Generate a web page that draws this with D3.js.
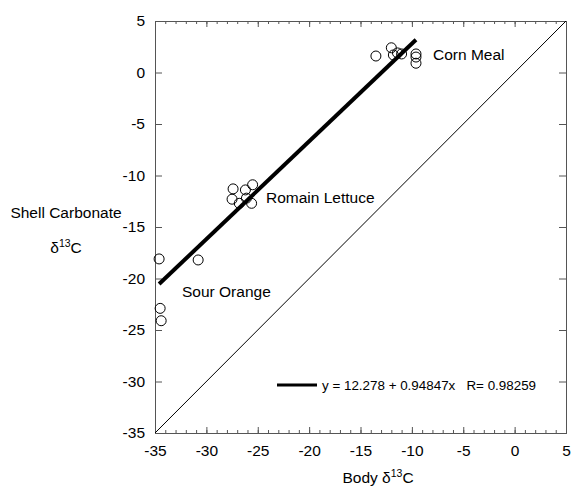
<!DOCTYPE html>
<html>
<head>
<meta charset="utf-8">
<script src="https://cdn.jsdelivr.net/npm/d3@7"></script>
<style>
  body { margin: 0; background: #fff; }
  svg { font-family: "Liberation Sans", Arial, sans-serif; }
</style>
</head>
<body>
<div id="container"></div>
<script>
// readings from the picture
var cornX = [-13.5, -12.0, -11.8, -11.4, -11.0, -9.6, -9.6, -9.6];
var cornY = [1.6, 2.4, 1.7, 1.9, 1.8, 1.8, 1.5, 0.9];
var lettuceX = [-27.4, -25.5, -26.2, -27.5, -26.8, -26.1, -25.6];
var lettuceY = [-11.3, -10.9, -11.4, -12.3, -12.7, -12.2, -12.7];
var orangeX = [-34.6, -30.8, -34.5, -34.4];
var orangeY = [-18.1, -18.2, -22.9, -24.1];
var tickVals = [-35, -30, -25, -20, -15, -10, -5, 0, 5];
var fitA = 12.278;
var fitB = 0.94847;
var fitRange = [-34.6, -9.6];

var width = 575;
var height = 487;
var plotLeft = 155, plotRight = 566, plotTop = 21, plotBottom = 433;

var svg = d3.select("#container").append("svg")
            .attr("width", width)
            .attr("height", height);

var x = d3.scaleLinear().domain([-35, 5]).range([plotLeft, plotRight]);
var y = d3.scaleLinear().domain([-35, 5]).range([plotBottom, plotTop]);
var minor = d3.range(-35, 6, 1);
var fmt = function(d) { return String(d); };

// ticks all point into the plot
var gb = svg.append("g").attr("transform", "translate(0," + plotBottom + ")");
gb.call(d3.axisBottom(x).tickValues(minor).tickSize(-3).tickFormat(""));
gb.append("g").call(d3.axisBottom(x).tickValues(tickVals).tickSize(-6).tickPadding(12).tickFormat(fmt));

var gt = svg.append("g").attr("transform", "translate(0," + plotTop + ")");
gt.call(d3.axisTop(x).tickValues(minor).tickSize(-3).tickFormat(""));
gt.append("g").call(d3.axisTop(x).tickValues(tickVals).tickSize(-6).tickFormat(""));

var gl = svg.append("g").attr("transform", "translate(" + plotLeft + ",0)");
gl.call(d3.axisLeft(y).tickValues(tickVals).tickSize(-7).tickPadding(10).tickFormat(fmt));

var gr = svg.append("g").attr("transform", "translate(" + plotRight + ",0)");
gr.call(d3.axisRight(y).tickValues(tickVals).tickSize(-7).tickFormat(""));

svg.selectAll(".domain").attr("stroke", "#555");
svg.selectAll(".tick line").attr("stroke", "#555");
svg.selectAll(".tick text").style("font-size", "15.5px").attr("fill", "#000");

// 1:1 line
svg.append("line")
   .attr("x1", x(-35)).attr("y1", y(-35))
   .attr("x2", x(5)).attr("y2", y(5))
   .attr("stroke", "#000").attr("stroke-width", 1);

// fitted line
svg.append("line")
   .attr("x1", x(fitRange[0])).attr("y1", y(fitA + fitB * fitRange[0]))
   .attr("x2", x(fitRange[1])).attr("y2", y(fitA + fitB * fitRange[1]))
   .attr("stroke", "#000").attr("stroke-width", 4);

function drawPoints(xs, ys) {
  svg.append("g").selectAll("circle")
     .data(xs)
     .enter()
     .append("circle")
     .attr("cx", function(d) { return x(d); })
     .attr("cy", function(d, i) { return y(ys[i]); })
     .attr("r", 5)
     .attr("fill", "none")
     .attr("stroke", "#000")
     .attr("stroke-width", 1);
}
drawPoints(cornX, cornY);
drawPoints(lettuceX, lettuceY);
drawPoints(orangeX, orangeY);

function label(txt, px, py, size) {
  return svg.append("text")
            .attr("x", px).attr("y", py)
            .style("font-size", size + "px")
            .attr("fill", "#000")
            .text(txt);
}
label("Corn Meal", 433, 60, 15.5);
label("Romain Lettuce", 266, 203, 15.5);
label("Sour Orange", 182, 297, 15.5);

// legend
svg.append("line")
   .attr("x1", 277).attr("x2", 317)
   .attr("y1", 385).attr("y2", 385)
   .attr("stroke", "#000").attr("stroke-width", 3);
label("y = " + fitA + " + " + fitB + "x   R= 0.98259", 322, 390, 13.4)
   .style("white-space", "pre");

// axis titles
svg.append("text").attr("x", 66).attr("y", 218)
   .attr("text-anchor", "middle").style("font-size", "15.5px")
   .text("Shell Carbonate");
var t2 = svg.append("text").attr("x", 66).attr("y", 253)
            .attr("text-anchor", "middle").style("font-size", "15.5px");
t2.append("tspan").text("\u03b4");
t2.append("tspan").attr("dy", -6).style("font-size", "10.5px").text("13");
t2.append("tspan").attr("dy", 6).text("C");

var t3 = svg.append("text").attr("x", 378).attr("y", 483)
            .attr("text-anchor", "middle").style("font-size", "15.5px");
t3.append("tspan").text("Body \u03b4");
t3.append("tspan").attr("dy", -6).style("font-size", "10.5px").text("13");
t3.append("tspan").attr("dy", 6).text("C");
</script>
</body>
</html>
